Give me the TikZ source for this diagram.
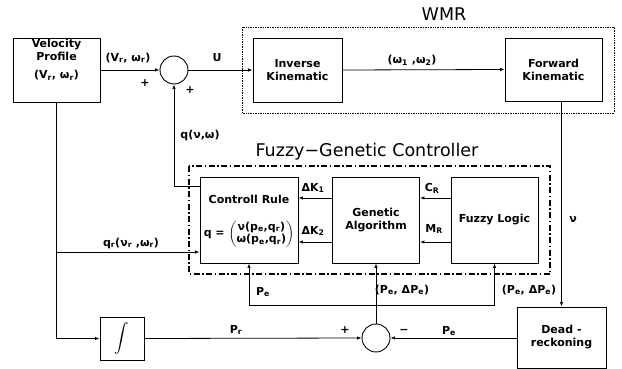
\documentclass[tikz,border=0pt]{standalone}
\usepackage{amsmath}
\usepackage{fontspec}
\setmainfont{DejaVu Sans}
\usetikzlibrary{calc,positioning,arrows.meta}
\begin{document}
\begin{tikzpicture}[x=1pt,y=1pt,font=\fontsize{11pt}{13pt}\selectfont\bfseries,
      blk/.style={draw,line width=0.9pt,align=center,inner sep=1pt},
      sum/.style={draw,circle,line width=0.9pt,minimum size=28pt,inner sep=0pt},
      ar/.style={-{Latex[length=4.5pt,width=3.5pt]},line width=0.8pt},
      lb/.style={inner sep=1pt},
      ttl/.style={font=\fontsize{17.5pt}{19pt}\selectfont},
      wmrbox/.style={densely dotted,line width=0.7pt},
      fgcbox/.style={dash pattern=on 6pt off 2.5pt on 1.5pt off 2.5pt,line width=1.1pt}]
      \useasboundingbox (0,0) rectangle (622,-369);
      % plant block
      \draw[wmrbox] (242,-27) rectangle (614,-113);
      \node[ttl] (wmr) at (444,-14) {WMR};
      % controller block
      \draw[fgcbox] (189,-166) rectangle (550,-274);
      \node[ttl] (fgc) at (367,-152) {Fuzzy−Genetic Controller};
      % blocks
      \node[blk,minimum width=87,minimum height=64] (vp) at (56.5,-70) {};
      \node[align=center] (vptxt) at (56.5,-60) {Velocity\\Profile\\[5pt](V\textsubscript{r}, ω\textsubscript{r})};
      \node[sum] (s1) at (174,-70) {};
      \node[blk,minimum width=89,minimum height=64] (ik) at (297.5,-70) {Inverse\\Kinematic};
      \node[blk,minimum width=97,minimum height=63] (fk) at (553.5,-69.5) {Forward\\Kinematic};
      \node[blk,minimum width=98,minimum height=86] (cr) at (249,-220) {};
      \node (crt) at (249,-199) {Controll Rule};
      \node[inner sep=0pt] (crq) at (249,-234) {q = $\left(\renewcommand{\arraystretch}{0.95}\begin{array}{@{}c@{}}\text{ν(p\textsubscript{e},q\textsubscript{r})}\\ \text{ω(p\textsubscript{e},q\textsubscript{r})}\end{array}\right)$};
      \node[blk,minimum width=87,minimum height=86] (ga) at (376,-220) {Genetic\\Algorithm};
      \node[blk,minimum width=87,minimum height=86] (fl) at (494.5,-220) {Fuzzy Logic};
      \node[blk,minimum width=89,minimum height=61] (dr) at (561.5,-337.5) {Dead -\\reckoning};
      \node[blk,minimum width=44,minimum height=43,font=\fontsize{14pt}{16pt}\selectfont] (int) at (122,-338.5) {$\displaystyle\int$};
      \node[sum] (s2) at (376,-338) {};
      % connectors
      \draw[ar] (vp.east) -- (s1.west);
      \draw[ar] (s1.east) -- (ik.west);
      \draw[ar] (ik.east) -- (fk.west);
      \draw[ar] (dr.north |- fk.south) -- (dr.north);
      \draw[ar] ($(cr.north west)+(0,-10)$) -| (s1.south);
      \draw[ar] (vp.south) |- (int.west);
      \coordinate (jq) at (vp.south |- 0,-252);
      \draw[ar] (jq) -- (jq -| cr.west);
      \draw[ar] (int.east) -- (s2.west);
      \draw[ar] (dr.west |- s2.east) -- (s2.east);
      \draw[ar] (s2.north) -- (ga.south);
      \coordinate (jp) at (s2.north |- 0,-305);
      \draw[ar] (jp) -| (cr.south);
      \draw[ar] (jp) -| (fl.south);
      \draw[ar] (ga.west |- 0,-198) -- (cr.east |- 0,-198);
      \draw[ar] (ga.west |- 0,-242) -- (cr.east |- 0,-242);
      \draw[ar] (fl.west |- 0,-198) -- (ga.east |- 0,-198);
      \draw[ar] (fl.west |- 0,-242) -- (ga.east |- 0,-242);
      % labels
      \node[lb] (lvr) at (128,-58) {(V\textsubscript{r}, ω\textsubscript{r})};
      \node[lb] (pa) at (145,-83) {+};
      \node[lb] (pb) at (190,-90) {+};
      \node[lb] (lu) at (217,-58) {U};
      \node[lb] (lw) at (412,-60) {(ω\textsubscript{1} ,ω\textsubscript{2})};
      \node[lb] (lq) at (200,-135) {q(ν,ω)};
      \node[lb] (lqr) at (131,-243) {q\textsubscript{r}(ν\textsubscript{r} ,ω\textsubscript{r})};
      \node[lb] (lnu) at (573,-219) {ν};
      \node[lb] (lk1) at (313,-188) {ΔK\textsubscript{1}};
      \node[lb] (lk2) at (313,-231) {ΔK\textsubscript{2}};
      \node[lb] (lcr) at (432,-188) {C\textsubscript{R}};
      \node[lb] (lmr) at (434,-229) {M\textsubscript{R}};
      \node[lb] (lpe1) at (263,-292) {P\textsubscript{e}};
      \node[lb] (lpe2) at (402,-290) {(P\textsubscript{e}, ΔP\textsubscript{e})};
      \node[lb] (lpe3) at (529,-290) {(P\textsubscript{e}, ΔP\textsubscript{e})};
      \node[lb] (lpr) at (236,-330) {P\textsubscript{r}};
      \node[lb] (pc) at (345,-330) {+};
      \node[lb] (mn) at (404,-331) {−};
      \node[lb] (lpe) at (449,-331) {P\textsubscript{e}};
    \end{tikzpicture}
\end{document}
